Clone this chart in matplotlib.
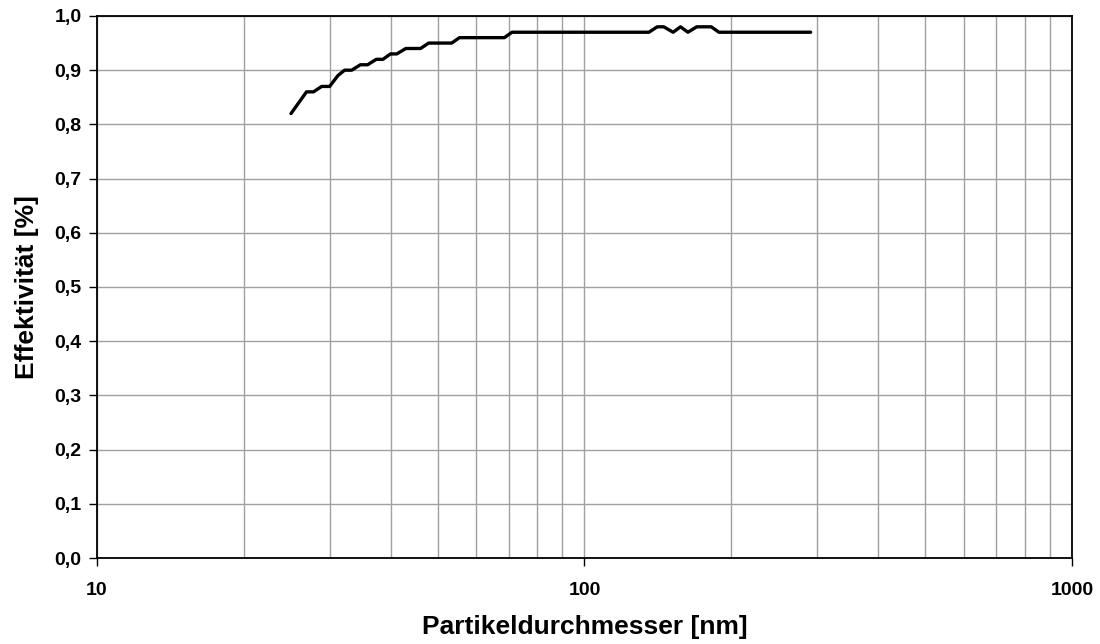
import numpy as np
import matplotlib
matplotlib.use("Agg")
import matplotlib.pyplot as plt
from matplotlib.ticker import FixedLocator, FuncFormatter, LogLocator, NullFormatter

plt.rcParams['font.family'] = ['Liberation Sans', 'DejaVu Sans']

# particle diameter (nm) and measured efficiency
diameter = [25.0, 26.9, 27.8, 28.9, 30.0, 31.2, 32.2, 33.3, 34.7, 35.9, 37.4, 38.6,
            40.0, 41.2, 43.0, 46.1, 47.9, 53.4, 55.4, 68.5, 71.0, 135.6, 141.0,
            145.4, 152.0, 157.4, 163.0, 169.9, 182.0, 188.7, 291.0]
efficiency = [0.82, 0.86, 0.86, 0.87, 0.87, 0.89, 0.90, 0.90, 0.91, 0.91, 0.92, 0.92,
              0.93, 0.93, 0.94, 0.94, 0.95, 0.95, 0.96, 0.96, 0.97, 0.97, 0.98,
              0.98, 0.97, 0.98, 0.97, 0.98, 0.98, 0.97, 0.97]

y_ticks = np.round(np.arange(0, 1.01, 0.1), 1)
x_ticks = [10, 100, 1000]

fig = plt.figure(figsize=(11, 6.44), dpi=100)
ax = fig.add_axes([0.0882, 0.1335, 0.8863, 0.8417])

ax.plot(diameter, efficiency, color='black', lw=2.4, solid_capstyle='round',
        solid_joinstyle='round', zorder=3)

ax.set_xscale('log')
ax.set_xlim(10, 1000)
ax.set_ylim(0, 1.0)

ax.xaxis.set_major_locator(FixedLocator(x_ticks))
ax.xaxis.set_major_formatter(FuncFormatter(lambda v, p: '%d' % v))
ax.xaxis.set_minor_locator(LogLocator(base=10, subs=np.arange(2, 10)))
ax.xaxis.set_minor_formatter(NullFormatter())
ax.set_yticks(y_ticks)
ax.yaxis.set_major_formatter(FuncFormatter(lambda v, p: ('%.1f' % v).replace('.', ',')))

ax.grid(True, which='major', axis='both', color='#a0a0a0', lw=1.0)
ax.grid(True, which='minor', axis='x', color='#a0a0a0', lw=1.0)
ax.set_axisbelow(True)

ax.tick_params(axis='both', which='major', direction='out', length=6, width=1,
               labelsize=14)
ax.tick_params(axis='y', which='major', pad=5)
ax.tick_params(axis='x', which='major', pad=11)
ax.tick_params(axis='x', which='minor', length=0)
for lbl in ax.get_xticklabels() + ax.get_yticklabels():
    lbl.set_fontweight('bold')

for s in ax.spines.values():
    s.set_color('black')
    s.set_linewidth(1.3)

ax.set_xlabel('Partikeldurchmesser [nm]', fontsize=19, fontweight='bold', labelpad=12)
ax.set_ylabel('Effektivität [%]', fontsize=19, fontweight='bold', labelpad=11.5)

fig.savefig('out.png', dpi=100, facecolor='white')
